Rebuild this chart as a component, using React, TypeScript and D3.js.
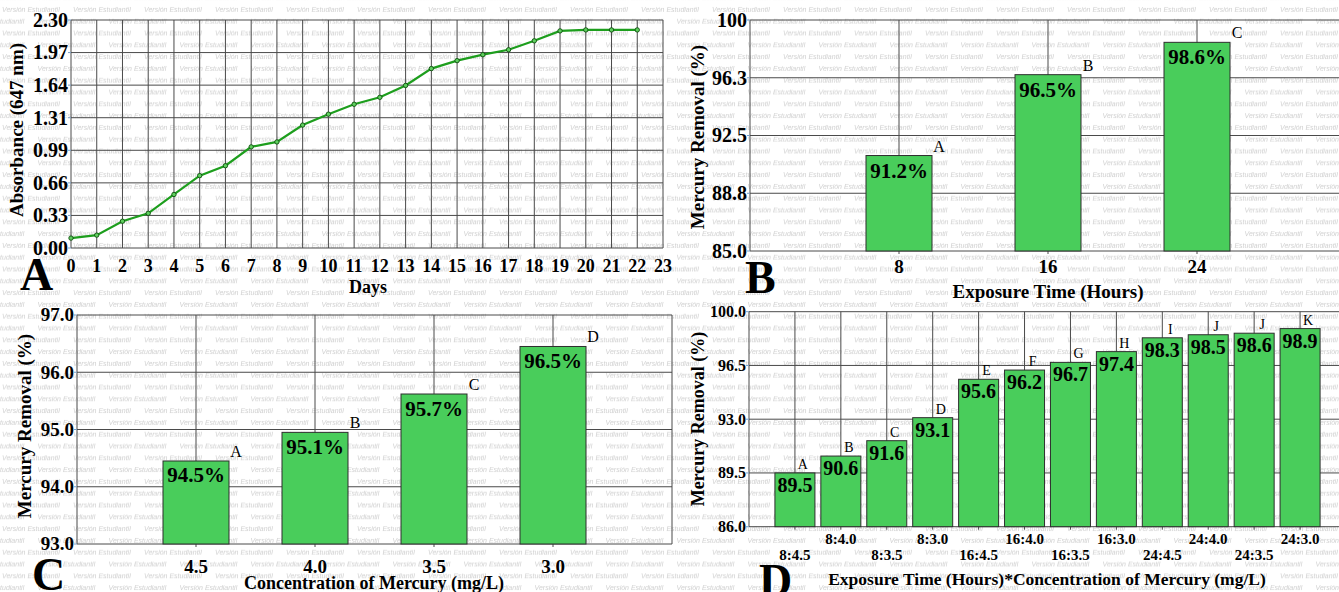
import React from "react";
import * as d3 from "d3";

// ---------- Panel A data ----------
const days = [0, 1, 2, 3, 4, 5, 6, 7, 8, 9, 10, 11, 12, 13, 14, 15, 16, 17, 18, 19, 20, 21, 22];
const absorbance = [0.10, 0.13, 0.27, 0.35, 0.54, 0.73, 0.83, 1.02, 1.07, 1.24, 1.35, 1.45, 1.52, 1.64, 1.81, 1.89, 1.95, 2.0, 2.09, 2.19, 2.2, 2.2, 2.2];
const absTickValues = [0, 0.3286, 0.6571, 0.9857, 1.3143, 1.6429, 1.9714, 2.3];
const absTickLabels = ["0.00", "0.33", "0.66", "0.99", "1.31", "1.64", "1.97", "2.30"];
const dayTicks = [0, 1, 2, 3, 4, 5, 6, 7, 8, 9, 10, 11, 12, 13, 14, 15, 16, 17, 18, 19, 20, 21, 22, 23];

// ---------- Panel B data ----------
const timeCats = ["8", "16", "24"];
const timeVals = [91.2, 96.45, 98.55];
const timeLabels = ["91.2%", "96.5%", "98.6%"];
const timeLetters = ["A", "B", "C"];
const bTickValues = [85, 88.75, 92.5, 96.25, 100];
const bTickLabels = ["85.0", "88.8", "92.5", "96.3", "100"];

// ---------- Panel C data ----------
const concCats = ["4.5", "4.0", "3.5", "3.0"];
const concVals = [94.45, 94.95, 95.62, 96.45];
const concLabels = ["94.5%", "95.1%", "95.7%", "96.5%"];
const concLetters = ["A", "B", "C", "D"];
const cTickValues = [93, 94, 95, 96, 97];
const cTickLabels = ["93.0", "94.0", "95.0", "96.0", "97.0"];

// ---------- Panel D data ----------
const interCats = ["8:4.5", "8:4.0", "8:3.5", "8:3.0", "16:4.5", "16:4.0", "16:3.5", "16:3.0", "24:4.5", "24:4.0", "24:3.5", "24:3.0"];
const interVals = [89.5, 90.6, 91.6, 93.1, 95.6, 96.2, 96.7, 97.4, 98.3, 98.5, 98.6, 98.9];
const interLabels = ["89.5", "90.6", "91.6", "93.1", "95.6", "96.2", "96.7", "97.4", "98.3", "98.5", "98.6", "98.9"];
const interLetters = ["A", "B", "C", "D", "E", "F", "G", "H", "I", "J", "J", "K"];
const dTickValues = [86, 89.5, 93, 96.5, 100];
const dTickLabels = ["86.0", "89.5", "93.0", "96.5", "100.0"];

const SERIF = "'Liberation Serif', 'Times New Roman', serif";
const GRID = "#4a4a4a";
const BAR = "#49cd5b";
const WM = "Versión Estudiantil";

function PanelA() {
  const x = d3.scaleLinear().domain([0, 23]).range([71, 663]);
  const y = d3.scaleLinear().domain([0, 2.3]).range([248, 20]);
  const line = d3
    .line<number>()
    .x((_, i) => x(days[i]))
    .y((d) => y(d));
  return (
    <g fontFamily={SERIF} fontWeight="bold" fill="#000">
      {absTickValues.map((v, i) => (
        <line key={"h" + i} x1={x(0)} x2={x(23)} y1={y(v)} y2={y(v)} stroke={GRID} strokeWidth={1} />
      ))}
      {dayTicks.map((d) => (
        <line key={"v" + d} x1={x(d)} x2={x(d)} y1={y(0)} y2={y(2.3)} stroke={GRID} strokeWidth={1} />
      ))}
      <path d={line(absorbance) || ""} fill="none" stroke="#1d9e1d" strokeWidth={2.2} />
      {absorbance.map((v, i) => (
        <circle key={"m" + i} cx={x(days[i])} cy={y(v)} r={2.2} fill="#5fcf5f" stroke="#0d4f0d" strokeWidth={0.9} />
      ))}
      {absTickValues.map((v, i) => (
        <g key={"yt" + i}>
          <line x1={x(0) - 3} x2={x(0)} y1={y(v)} y2={y(v)} stroke="#7aa0c8" strokeWidth={1} />
          <text x={x(0) - 3} y={y(v)} dy="0.34em" textAnchor="end" fontSize={20}>
            {absTickLabels[i]}
          </text>
        </g>
      ))}
      {dayTicks.map((d) => (
        <text key={"xt" + d} x={x(d)} y={272} textAnchor="middle" fontSize={18}>
          {d}
        </text>
      ))}
      <text x={368} y={293} textAnchor="middle" fontSize={18}>
        Days
      </text>
      <text transform="translate(23,130) rotate(-90)" textAnchor="middle" fontSize={19}>
        Absorbance (647 nm)
      </text>
      <text x={20} y={290} fontSize={46}>
        A
      </text>
    </g>
  );
}

function BarPanel(props: {
  cats: string[];
  vals: number[];
  labels: string[];
  letters: string[];
  tickValues: number[];
  tickLabels: string[];
  xDomainMax: number;
  xRange: [number, number];
  yDomain: [number, number];
  yRange: [number, number];
  barWidth: number;
  valueFont: number;
  valueDy: number;
  letterFont: number;
  letterMode: "right" | "center";
  yTickFont: number;
  xTickFont: number;
  xTickY: number[];
  yLabelPos: [number, number];
  yLabelFont: number;
  title: string;
  titlePos: [number, number];
  titleFont: number;
  panel: string;
  panelPos: [number, number];
}) {
  const p = props;
  const x = d3.scaleLinear().domain([0, p.xDomainMax]).range(p.xRange);
  const y = d3.scaleLinear().domain(p.yDomain).range(p.yRange);
  const [y0, y1] = p.yDomain;
  const pos = (i: number) => x(i + 1);
  const left = x(0);
  const right = x(p.xDomainMax);
  return (
    <g fontFamily={SERIF} fill="#000">
      {p.tickValues.map((v, i) => (
        <line key={"h" + i} x1={left} x2={right} y1={y(v)} y2={y(v)} stroke={GRID} strokeWidth={1} />
      ))}
      <line x1={left} x2={left} y1={y(y0)} y2={y(y1)} stroke={GRID} strokeWidth={1} />
      <line x1={right} x2={right} y1={y(y0)} y2={y(y1)} stroke={GRID} strokeWidth={1} />
      {p.cats.map((c, i) => (
        <line key={"v" + i} x1={pos(i)} x2={pos(i)} y1={y(y0) + 3} y2={y(y1)} stroke={GRID} strokeWidth={1} />
      ))}
      {p.vals.map((v, i) => (
        <rect
          key={"b" + i}
          x={pos(i) - p.barWidth / 2}
          y={y(v)}
          width={p.barWidth}
          height={y(y0) - y(v)}
          fill={BAR}
          stroke="#2e2e2e"
          strokeWidth={1}
        />
      ))}
      {p.vals.map((v, i) => (
        <text key={"vl" + i} x={pos(i)} y={y(v) + p.valueDy} textAnchor="middle" fontWeight="bold" fontSize={p.valueFont}>
          {p.labels[i]}
        </text>
      ))}
      {p.vals.map((v, i) => (
        <text
          key={"lt" + i}
          x={p.letterMode === "right" ? pos(i) + p.barWidth / 2 + 7 : pos(i) + 8}
          y={y(v) - 4}
          textAnchor="middle"
          fontSize={p.letterFont}
        >
          {p.letters[i]}
        </text>
      ))}
      {p.tickValues.map((v, i) => (
        <g key={"yt" + i}>
          <line x1={left - 3} x2={left} y1={y(v)} y2={y(v)} stroke="#7aa0c8" strokeWidth={1} />
          <text x={left - 3} y={y(v)} dy="0.34em" textAnchor="end" fontWeight="bold" fontSize={p.yTickFont}>
            {p.tickLabels[i]}
          </text>
        </g>
      ))}
      {p.cats.map((c, i) => (
        <text
          key={"xt" + i}
          x={pos(i)}
          y={p.xTickY[i % p.xTickY.length]}
          textAnchor="middle"
          fontWeight="bold"
          fontSize={p.xTickFont}
        >
          {c}
        </text>
      ))}
      <text
        transform={`translate(${p.yLabelPos[0]},${p.yLabelPos[1]}) rotate(-90)`}
        textAnchor="middle"
        fontWeight="bold"
        fontSize={p.yLabelFont}
      >
        Mercury Removal (%)
      </text>
      <text x={p.titlePos[0]} y={p.titlePos[1]} textAnchor="middle" fontWeight="bold" fontSize={p.titleFont}>
        {p.title}
      </text>
      <text x={p.panelPos[0]} y={p.panelPos[1]} fontWeight="bold" fontSize={46}>
        {p.panel}
      </text>
    </g>
  );
}

export default function App() {
  return (
    <svg
      width={1339}
      height={592}
      viewBox="0 0 1339 592"
      style={{ position: "absolute", left: 0, top: 0, display: "block", background: "#fff" }}
    >
      <defs>
        <pattern id="wm" x={0} y={4} width={71} height={23.6} patternUnits="userSpaceOnUse">
          <text x={2} y={8} fontSize={7} fontStyle="italic" fontFamily="'Liberation Sans', Arial, sans-serif" fill="#cfcfcf">
            {WM}
          </text>
          <text x={37.5} y={19.8} fontSize={7} fontStyle="italic" fontFamily="'Liberation Sans', Arial, sans-serif" fill="#cfcfcf">
            {WM}
          </text>
          <text x={-33.5} y={19.8} fontSize={7} fontStyle="italic" fontFamily="'Liberation Sans', Arial, sans-serif" fill="#cfcfcf">
            {WM}
          </text>
        </pattern>
      </defs>
      <rect x={0} y={0} width={1339} height={592} fill="#fff" />
      <rect x={0} y={0} width={1339} height={592} fill="url(#wm)" />
      <PanelA />
      <BarPanel
        cats={timeCats}
        vals={timeVals}
        labels={timeLabels}
        letters={timeLetters}
        tickValues={bTickValues}
        tickLabels={bTickLabels}
        xDomainMax={4}
        xRange={[750, 1346]}
        yDomain={[85, 100]}
        yRange={[251, 20]}
        barWidth={66}
        valueFont={21}
        valueDy={22}
        letterFont={16}
        letterMode="right"
        yTickFont={20}
        xTickFont={19}
        xTickY={[273]}
        yLabelPos={[704, 137]}
        yLabelFont={19}
        title="Exposure Time (Hours)"
        titlePos={[1048, 298]}
        titleFont={19}
        panel="B"
        panelPos={[745, 293]}
      />
      <BarPanel
        cats={concCats}
        vals={concVals}
        labels={concLabels}
        letters={concLetters}
        tickValues={cTickValues}
        tickLabels={cTickLabels}
        xDomainMax={5}
        xRange={[77, 672]}
        yDomain={[93, 97]}
        yRange={[544, 315]}
        barWidth={66}
        valueFont={21}
        valueDy={21.5}
        letterFont={16}
        letterMode="right"
        yTickFont={19}
        xTickFont={19}
        xTickY={[573]}
        yLabelPos={[31, 426]}
        yLabelFont={19}
        title="Concentration of Mercury (mg/L)"
        titlePos={[374, 589]}
        titleFont={18}
        panel="C"
        panelPos={[32, 590]}
      />
      <BarPanel
        cats={interCats}
        vals={interVals}
        labels={interLabels}
        letters={interLetters}
        tickValues={dTickValues}
        tickLabels={dTickLabels}
        xDomainMax={13}
        xRange={[749, 1346]}
        yDomain={[86, 100]}
        yRange={[526.7, 311.7]}
        barWidth={40}
        valueFont={20}
        valueDy={19}
        letterFont={14}
        letterMode="center"
        yTickFont={16}
        xTickFont={15}
        xTickY={[560, 544]}
        yLabelPos={[704, 419]}
        yLabelFont={18}
        title="Exposure Time (Hours)*Concentration of Mercury (mg/L)"
        titlePos={[1047, 585]}
        titleFont={17.5}
        panel="D"
        panelPos={[759, 596]}
      />
    </svg>
  );
}
